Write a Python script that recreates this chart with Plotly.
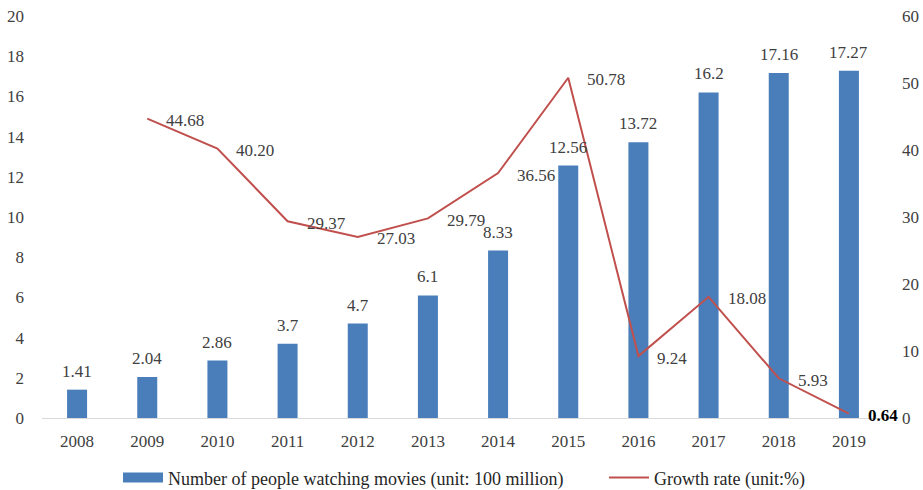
import plotly.graph_objects as go

years = ["2008", "2009", "2010", "2011", "2012", "2013", "2014", "2015", "2016", "2017", "2018", "2019"]
viewers = [1.41, 2.04, 2.86, 3.7, 4.7, 6.1, 8.33, 12.56, 13.72, 16.2, 17.16, 17.27]
viewer_labels = ["1.41", "2.04", "2.86", "3.7", "4.7", "6.1", "8.33", "12.56", "13.72", "16.2", "17.16", "17.27"]
growth = [None, 44.68, 40.20, 29.37, 27.03, 29.79, 36.56, 50.78, 9.24, 18.08, 5.93, 0.64]
growth_labels = [None, "44.68", "40.20", "29.37", "27.03", "29.79", "36.56", "50.78", "9.24", "18.08", "5.93", "0.64"]

BLUE = "#4a7ebb"
RED = "#c0504d"
TXT = "#404040"
FONT = "Liberation Serif"
FS = 17

fig = go.Figure()
fig.add_trace(go.Bar(x=years, y=viewers, marker=dict(color=BLUE, line=dict(width=0)),
                     showlegend=False, yaxis="y"))
fig.add_trace(go.Scatter(x=years, y=growth, mode="lines", line=dict(color=RED, width=2),
                         showlegend=False, yaxis="y2"))
# legend entries
fig.add_trace(go.Scatter(x=[years[0]], y=[None], mode="lines", line=dict(color=BLUE, width=10),
                         name="Number of people watching movies (unit: 100 million)", yaxis="y",
                         legend="legend"))
fig.add_trace(go.Scatter(x=[years[0]], y=[None], mode="lines", line=dict(color=RED, width=2),
                         name="Growth rate (unit:%)", yaxis="y2", legend="legend2"))

ann = []
for i, (v, t) in enumerate(zip(viewers, viewer_labels)):
    ann.append(dict(x=i, y=v, xref="x", yref="y", text=t, showarrow=False,
                    yanchor="bottom", yshift=7, font=dict(family=FONT, size=FS, color=TXT)))
for i, (g, t) in enumerate(zip(growth, growth_labels)):
    if g is None:
        continue
    bold = (i == len(years) - 1)
    ann.append(dict(x=i, y=g, xref="x", yref="y2", text=("<b>%s</b>" % t) if bold else t,
                    showarrow=False, xanchor="left", yanchor="middle", xshift=17, yshift=-2,
                    font=dict(family=FONT, size=FS, color="#000000" if bold else TXT)))

legend_common = dict(orientation="h", xanchor="left", y=-0.149, yanchor="middle",
                     itemwidth=40, font=dict(family=FONT, size=18, color="#262626"),
                     bgcolor="rgba(0,0,0,0)")

fig.update_layout(
    width=923, height=490,
    margin=dict(l=42, r=39, t=16, b=72, autoexpand=False),
    paper_bgcolor="white", plot_bgcolor="white",
    bargap=0.715,
    font=dict(family=FONT, size=FS, color=TXT),
    xaxis=dict(type="category", categoryorder="array", categoryarray=years,
               range=[-0.5, len(years) - 0.5], automargin=False,
               showgrid=False, showline=True, linecolor="#d9d9d9", linewidth=1,
               ticks="", ticklabelstandoff=8, tickfont=dict(family=FONT, size=FS, color=TXT)),
    yaxis=dict(range=[0, 20], dtick=2, showgrid=False, zeroline=False, showline=False,
               automargin=False,
               ticks="", ticklabelstandoff=17, tickfont=dict(family=FONT, size=FS, color=TXT)),
    yaxis2=dict(range=[0, 60], dtick=10, overlaying="y", side="right", showgrid=False,
                zeroline=False, showline=False, ticks="", ticklabelstandoff=17, automargin=False,
                tickfont=dict(family=FONT, size=FS, color=TXT)),
    legend=dict(x=(118 - 42) / 842, **legend_common),
    legend2=dict(x=(604 - 42) / 842, **legend_common),
    annotations=ann,
)

fig.write_html("out.html")
